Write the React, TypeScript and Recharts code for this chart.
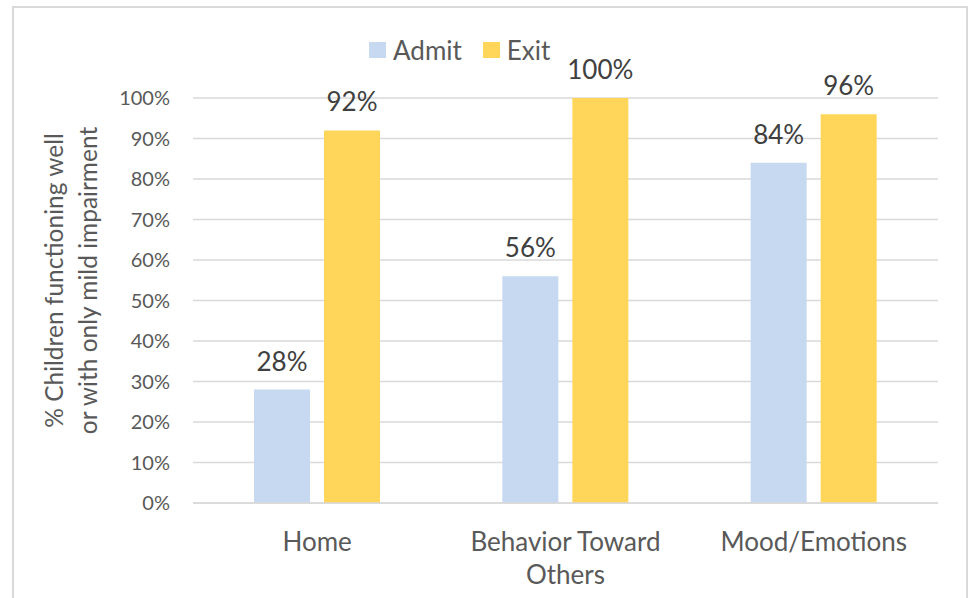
import React from 'react';
import { BarChart, Bar, XAxis, YAxis, CartesianGrid, Legend, LabelList } from 'recharts';

const categories = ['Home', 'Behavior Toward Others', 'Mood/Emotions'];
const admit = [0.28, 0.56, 0.84];
const exit = [0.92, 1.0, 0.96];
const yTicks = [0, 0.1, 0.2, 0.3, 0.4, 0.5, 0.6, 0.7, 0.8, 0.9, 1.0];
const yLabelLines = ['% Children functioning well', 'or with only mild impairment'];

const data = categories.map((name, i) => ({ name, admit: admit[i], exit: exit[i] }));

const FONT = 'Lato, "Open Sans", sans-serif';
const ADMIT_COLOR = '#C6D9F0';
const EXIT_COLOR = '#FFD659';
const GRID = '#d9d9d9';

const pct = (v: number) => `${Math.round(v * 100)}%`;

// greedy word wrap, roughly what fits in one category band
const wrap = (s: string, maxChars = 16) => {
  const lines: string[] = [];
  let cur = '';
  s.split(' ').forEach((w) => {
    const next = cur ? `${cur} ${w}` : w;
    if (next.length > maxChars && cur) {
      lines.push(cur);
      cur = w;
    } else {
      cur = next;
    }
  });
  if (cur) lines.push(cur);
  return lines;
};

const CategoryTick = (props: any) => {
  const { x, y, payload } = props;
  const lines = wrap(payload.value);
  return (
    <text x={x} y={y + 40} textAnchor="middle" fontSize={26} fontFamily={FONT} fill="#595959">
      {lines.map((l, i) => (
        <tspan key={l} x={x} dy={i === 0 ? 0 : 33}>
          {l}
        </tspan>
      ))}
    </text>
  );
};

const YLabel = (props: any) => {
  const { viewBox } = props;
  const cy = viewBox.y + viewBox.height / 2 - 20;
  const xs = [63, 97];
  return (
    <g>
      {yLabelLines.map((line, i) => (
        <text
          key={line}
          x={xs[i]}
          y={cy}
          transform={`rotate(-90 ${xs[i]} ${cy})`}
          textAnchor="middle"
          fontSize={24.5}
          fontFamily={FONT}
          fill="#595959"
        >
          {line}
        </text>
      ))}
    </g>
  );
};

const LegendContent = () => {
  const items = [
    { label: 'Admit', color: ADMIT_COLOR },
    { label: 'Exit', color: EXIT_COLOR },
  ];
  return (
    <div style={{ display: 'flex', alignItems: 'center', fontFamily: FONT, fontSize: 26, color: '#595959' }}>
      {items.map((it) => (
        <div key={it.label} style={{ display: 'flex', alignItems: 'center', marginRight: 21 }}>
          <div style={{ width: 17, height: 16, background: it.color, marginRight: 7 }} />
          <span style={{ lineHeight: '30px' }}>{it.label}</span>
        </div>
      ))}
    </div>
  );
};

export default function App() {
  return (
    <div style={{ position: 'absolute', left: 0, top: 0, width: 970, height: 598, background: '#fff', overflow: 'hidden' }}>
      <div
        style={{
          position: 'absolute',
          left: 12,
          top: 6,
          width: 952,
          height: 620,
          border: '2px solid #d9d9d9',
        }}
      />
      <BarChart
        width={970}
        height={598}
        data={data}
        margin={{ top: 68, right: 32, bottom: 0, left: 0 }}
        barGap={14}
        barSize={56}
      >
        <CartesianGrid vertical={false} stroke={GRID} strokeWidth={1.5} />
        <XAxis
          dataKey="name"
          height={95}
          axisLine={{ stroke: GRID, strokeWidth: 1.5 }}
          tickLine={false}
          tick={<CategoryTick />}
          interval={0}
        />
        <YAxis
          width={193}
          domain={[0, 1]}
          ticks={yTicks}
          tickFormatter={pct}
          axisLine={false}
          tickLine={false}
          tickSize={6}
          tickMargin={17}
          tick={{ fontSize: 20, fontFamily: FONT, fill: '#595959' }}
          label={<YLabel />}
        />
        <Legend
          verticalAlign="top"
          content={<LegendContent />}
          wrapperStyle={{ left: 369, top: 35, width: 'auto' }}
        />
        <Bar dataKey="admit" name="Admit" fill={ADMIT_COLOR} isAnimationActive={false}>
          <LabelList dataKey="admit" position="top" offset={19} formatter={pct} fontSize={26} fontFamily={FONT} fill="#404040" />
        </Bar>
        <Bar dataKey="exit" name="Exit" fill={EXIT_COLOR} isAnimationActive={false}>
          <LabelList dataKey="exit" position="top" offset={19} formatter={pct} fontSize={26} fontFamily={FONT} fill="#404040" />
        </Bar>
      </BarChart>
    </div>
  );
}
